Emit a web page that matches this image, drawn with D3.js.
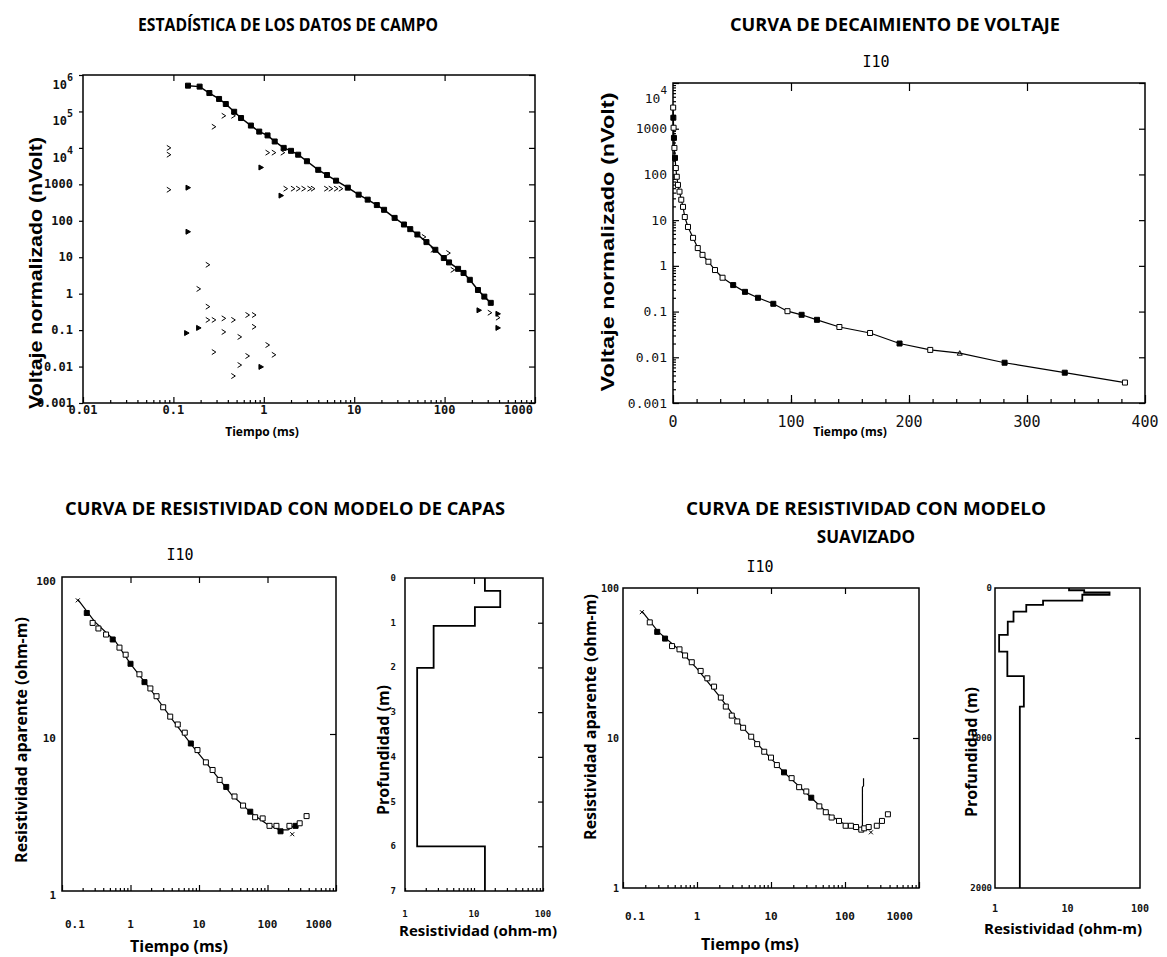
<!DOCTYPE html>
<html>
<head>
<meta charset="utf-8">
<script src="https://cdn.jsdelivr.net/npm/d3@7"></script>
<style>body{margin:0;background:#fff}</style>
</head>
<body>
<script>
// ---- ESTADISTICA DE LOS DATOS DE CAMPO ----
const campoTiempo = [0.145,0.195,0.25,0.32,0.38,0.47,0.56,0.72,0.89,1.1,1.32,1.66,2.0,2.4,3.0,4.0,5.0,6.3,8.5,11.2,14.1,17.8,21.4,28,35.5,41.7,50,63,79,98,112,141,162,190,234,275,324];
const campoVoltaje = [5.1e5,4.8e5,3.2e5,2.2e5,1.6e5,9.8e4,6.6e4,4.1e4,2.8e4,2.2e4,1.5e4,1.0e4,8300,6500,4300,2500,1800,1260,810,520,380,270,200,120,79,59,42,26,16,9.5,7.2,4.8,3.7,2.4,1.26,0.83,0.56];
const dispersoTiempo = [0.089,0.089,0.089,0.28,0.36,0.46,0.24,0.19,0.24,0.24,0.28,0.36,0.46,0.36,0.66,0.78,0.78,0.54,0.28,0.66,1.1,1.29,0.54,0.46,1.1,1.29,1.62,1.74,2.1,2.4,2.75,3.2,3.5,4.9,5.5,6.3,7.1,59,74,110,123,316,389];
const dispersoVoltaje = [1e4,6500,710,3.8e4,7.6e4,7.6e4,6.2,1.35,0.44,0.19,0.19,0.21,0.19,0.089,0.26,0.26,0.123,0.065,0.025,0.0195,0.039,0.021,0.011,0.0055,7400,7400,7400,760,760,760,760,760,760,760,760,760,760,36,16,13,4.5,0.30,0.22];
const rechazoTiempo = [0.145,0.145,0.14,0.19,0.93,0.93,1.55,240,389,389];
const rechazoVoltaje = [810,50,0.083,0.115,0.0098,2900,490,0.35,0.115,0.28];
const campoTicksX = [0.01,0.1,1,10,100,1000];
const campoRotulosX = ["0.01","0.1","1","10","100","1000"];
const campoTicksY = [1e6,1e5,1e4,1000,100,10,1,0.1,0.01,0.001];
const campoRotulosY = ["10^6","10^5","10^4","1000","100","10","1","0.1","0.01","0.001"];

// ---- CURVA DE DECAIMIENTO DE VOLTAJE ----
const decaTiempo = [0.15,0.3,0.5,0.8,1.2,1.7,2.4,3.2,4.2,5.5,7,8.5,10,12.7,17,21,25,30,35.6,42,51,61,72,85,97,109,122,141,167,192,218,243,281,332,383];
const decaVoltaje = [2900,1740,1050,630,380,230,138,89,59,42,28,19.5,11.7,7.1,4.1,2.45,1.74,1.23,0.81,0.55,0.38,0.27,0.20,0.148,0.102,0.085,0.066,0.046,0.034,0.020,0.0145,0.0123,0.0076,0.0046,0.0028];
const decaTipo = ["o","f","o","f","o","f","o","o","o","o","o","o","o","o","o","o","o","o","o","o","f","f","f","f","o","f","f","o","o","f","o","a","f","f","o"];
const decaTicksX = [0,100,200,300,400];
const decaTicksY = [1e4,1000,100,10,1,0.1,0.01,0.001];
const decaRotulosY = ["10^4","1000","100","10","1","0.1","0.01","0.001"];

// ---- CURVA DE RESISTIVIDAD CON MODELO DE CAPAS ----
const capasTiempo = [0.17,0.23,0.28,0.34,0.44,0.55,0.69,0.85,1.0,1.35,1.6,1.95,2.4,3.0,3.8,4.9,6.2,7.6,9.5,12.6,15.8,20,25,33,44,56,66,85,107,135,155,209,257,295,372,230];
const capasRho = [71,59,51,47,43,40,35.5,32,28,24,21.4,19.5,17.4,14.8,12.9,11.5,10.2,8.7,7.9,6.6,5.9,5.1,4.6,4.0,3.5,3.2,2.95,2.9,2.6,2.6,2.4,2.6,2.6,2.7,3.0,2.3];
const capasTipo = ["x","f","o","o","o","f","o","o","f","o","f","o","o","o","o","o","o","f","o","o","o","o","f","o","o","f","o","o","o","o","f","o","f","o","o","x"];
const capasModeloTiempo = [0.17,0.3,0.6,1,2,4,8,15,30,60,100,150,200,290];
const capasModeloRho = [72,52,39,28,19,12.5,8.4,6.0,4.1,3.1,2.65,2.45,2.45,2.75];
const capasTope = [0,0.29,0.65,1.07,2.01,6.0];
const capasBase = [0.29,0.65,1.07,2.01,6.0,7];
const capasResist = [14.4,24,10.3,2.6,1.5,14.4];

// ---- CURVA DE RESISTIVIDAD CON MODELO SUAVIZADO ----
const suaveTiempo = [0.18,0.23,0.29,0.37,0.46,0.58,0.69,0.85,1.12,1.38,1.7,2.1,2.45,2.95,3.5,4.2,5.4,6.5,8.1,10,12,15,19,24,30,35,45,55,66,83,102,120,141,166,182,209,269,316,380,224];
const suaveRho = [69,59,51,46,41,39,35.5,32,28,25,22,18.6,16.2,14.1,12.9,11.7,10.2,9.1,8.1,7.4,6.6,5.9,5.4,4.7,4.4,4.0,3.5,3.2,2.95,2.8,2.6,2.6,2.55,2.45,2.5,2.55,2.6,2.8,3.1,2.35];
const suaveTipo = ["x","o","f","f","o","o","o","o","o","o","o","o","o","o","o","o","o","o","o","o","o","f","o","o","o","f","o","o","o","o","o","o","o","o","o","o","o","o","o","x"];
const suaveModeloTiempo = [0.18,0.3,0.6,1,2,4,8,15,30,60,100,150,172,172,178,178];
const suaveModeloRho = [70,51,38,29,19,12,8.2,5.9,4.3,3.1,2.65,2.45,2.5,4.7,4.8,5.4];
const suaveTope = [0,15,30,45,84,113,158,224,313,424,587,791];
const suaveBase = [15,30,45,84,113,158,224,313,424,587,791,2000];
const suaveResist = [10.5,17,38,16,4.6,2.7,1.8,1.5,1.14,1.48,2.5,2.2];

const tiempoTicks = [0.1,1,10,100,1000];
const tiempoRotulos = ["0.1","1","10","100","1000"];

const MONO = "'DejaVu Sans Mono', monospace";
const SANS = "'Open Sans', sans-serif";
const ARIAL = "'Liberation Sans', Arial, sans-serif";

var svg = d3.select("body").append("svg")
  .attr("width", 1167).attr("height", 957)
  .style("background", "#fff");

// helpers
function menoresLog(a, b) {
  const v = [];
  for (let e = a; e < b; e++) for (let k = 2; k < 10; k++) v.push(k * Math.pow(10, e));
  return v;
}

function marco(x, y) {
  const [x0, x1] = d3.extent(x.range()), [y0, y1] = d3.extent(y.range());
  svg.append("rect")
    .attr("x", x0).attr("y", y0)
    .attr("width", x1 - x0).attr("height", y1 - y0)
    .attr("fill", "none").attr("stroke", "#000").attr("stroke-width", 1.5);
}

// ticks, largo > 0 points inside the box
function marcas(escala, lado, pos, vals, largo) {
  const ax = lado == "b" ? d3.axisBottom(escala) : lado == "t" ? d3.axisTop(escala)
    : lado == "l" ? d3.axisLeft(escala) : d3.axisRight(escala);
  ax.tickValues(vals).tickSize(-largo).tickFormat("");
  const tr = (lado == "b" || lado == "t") ? "translate(0," + pos + ")" : "translate(" + pos + ",0)";
  svg.append("g").attr("transform", tr).call(ax)
    .call(g => g.select(".domain").remove())
    .selectAll("line").attr("stroke", "#000").attr("stroke-width", 1.2);
}

function ponTexto(sel, t, supSize) {
  const p = t.split("^");
  sel.text(p[0]);
  if (p[1]) sel.append("tspan").attr("dy", -8).attr("font-size", supSize).text(p[1]);
}

function rotulosX(escala, vals, textos, y, c) {
  svg.append("g").selectAll("text").data(vals).join("text")
    .attr("x", (d, i) => escala(d) + (c.dx ? c.dx[i] : 0))
    .attr("y", y)
    .attr("text-anchor", (d, i) => c.anchor ? c.anchor[i] : "middle")
    .attr("font-family", MONO).attr("font-size", c.size)
    .attr("font-weight", c.weight || "normal").attr("fill", "#111")
    .text((d, i) => textos[i]);
}

function rotulosY(escala, vals, textos, x, c) {
  svg.append("g").selectAll("text").data(vals).join("text")
    .attr("x", x)
    .attr("y", (d, i) => escala(d) + (textos[i].includes("^") ? c.supDy : 0) + (c.dy || 0))
    .attr("text-anchor", "end").attr("dominant-baseline", "central")
    .attr("font-family", MONO).attr("font-size", c.size)
    .attr("font-weight", c.weight || "normal").attr("fill", "#111")
    .each(function (d, i) { ponTexto(d3.select(this), textos[i], c.size - 2); });
}

function texto(t, x, y, c) {
  const el = svg.append("text")
    .attr("x", x).attr("y", y)
    .attr("text-anchor", "middle").attr("dominant-baseline", "central")
    .attr("font-family", c.family).attr("font-size", c.size)
    .attr("font-weight", c.weight || "bold").attr("fill", "#000")
    .text(t);
  if (c.rot) el.attr("transform", "rotate(-90," + x + "," + y + ")");
  if (c.len) el.attr("textLength", c.len).attr("lengthAdjust", "spacingAndGlyphs");
  return el;
}

const formas = {
  o: "M-2.5,-2.5h5v5h-5Z",
  f: "M-2.5,-2.5h5v5h-5Z",
  c: "M-2,-2.5L2,0L-2,2.5",
  t: "M-2,-2.5L2.5,0L-2,2.5Z",
  x: "M-2,-2L2,2M-2,2L2,-2",
  a: "M0,-2.5L2.5,2L-2.5,2Z"
};
const rellenos = { o: "#fff", f: "#000", c: "none", t: "#000", x: "none", a: "none" };

function marcadores(x, y, xs, ys, tipos) {
  svg.append("g").selectAll("path").data(xs).join("path")
    .attr("transform", (d, i) => "translate(" + x(d) + "," + y(ys[i]) + ")")
    .attr("d", (d, i) => formas[typeof tipos == "string" ? tipos : tipos[i]])
    .attr("fill", (d, i) => rellenos[typeof tipos == "string" ? tipos : tipos[i]])
    .attr("stroke", "#000").attr("stroke-width", 1);
}

function linea(x, y, xs, ys, w) {
  svg.append("path")
    .datum(xs.map((d, i) => [d, ys[i]]))
    .attr("d", d3.line().x(d => x(d[0])).y(d => y(d[1])))
    .attr("fill", "none").attr("stroke", "#000").attr("stroke-width", w || 1.2);
}

function perfil(x, y, tope, base, rho) {
  const pts = [];
  rho.forEach((r, i) => { pts.push([r, tope[i]]); pts.push([r, base[i]]); });
  svg.append("path").datum(pts)
    .attr("d", d3.line().x(d => x(d[0])).y(d => y(d[1])))
    .attr("fill", "none").attr("stroke", "#000").attr("stroke-width", 1.8);
}

// ===== panel 1 =====
{
  const x = d3.scaleLog().domain([0.01, 1000]).range([83, 535]);
  const y = d3.scaleLog().domain([0.001, 1e6]).range([403, 75]);
  texto("ESTADÍSTICA DE LOS DATOS DE CAMPO", 288, 24, { family: SANS, size: 17, len: 300 });
  marco(x, y);
  marcas(x, "t", 75, campoTicksX.slice(1, 5), 6);
  marcas(x, "b", 403, campoTicksX, 6);
  marcas(x, "b", 403, menoresLog(-2, 3), 3);
  marcas(y, "r", 535, campoTicksY, 6);
  marcas(y, "l", 83, campoTicksY, -4);
  rotulosY(y, campoTicksY, campoRotulosY, 73, { size: 12, weight: "bold", supDy: 10 });
  rotulosX(x, campoTicksX, campoRotulosX, 414, { size: 12, weight: "bold", anchor: ["middle","middle","middle","middle","middle","end"], dx: [0,0,0,0,0,-2] });
  texto("Tiempo (ms)", 262, 431, { family: SANS, size: 12 });
  texto("Voltaje normalizado (nVolt)", 36, 273, { family: ARIAL, size: 18, rot: true, len: 272 });
  linea(x, y, campoTiempo, campoVoltaje, 1.5);
  marcadores(x, y, campoTiempo, campoVoltaje, "f");
  marcadores(x, y, dispersoTiempo, dispersoVoltaje, "c");
  marcadores(x, y, rechazoTiempo, rechazoVoltaje, "t");
}

// ===== panel 2 =====
{
  const x = d3.scaleLinear().domain([0, 400]).range([673, 1145]);
  const y = d3.scaleLog().domain([0.001, 1e4]).range([403, 83]);
  texto("CURVA DE DECAIMIENTO DE VOLTAJE", 895, 24, { family: SANS, size: 17, len: 330 });
  texto("I10", 876, 62, { family: MONO, size: 15, weight: "normal" });
  marco(x, y);
  marcas(x, "t", 83, [100, 200, 300], 8);
  marcas(x, "b", 403, decaTicksX, 8);
  marcas(x, "b", 403, d3.range(20, 400, 20), 4);
  marcas(y, "l", 673, decaTicksY, 6);
  marcas(y, "l", 673, menoresLog(-3, 4), 3);
  marcas(y, "r", 1145, decaTicksY, 6);
  rotulosY(y, decaTicksY, decaRotulosY, 667, { size: 13, supDy: 15 });
  rotulosX(x, decaTicksX, decaTicksX.map(String), 427, { size: 15 });
  texto("Tiempo (ms)", 850, 431, { family: SANS, size: 12 });
  texto("Voltaje normalizado (nVolt)", 608, 242, { family: ARIAL, size: 18, rot: true, len: 299 });
  linea(x, y, decaTiempo, decaVoltaje, 1.2);
  marcadores(x, y, decaTiempo, decaVoltaje, decaTipo);
}

// ===== panel 3 =====
{
  const x = d3.scaleLog().domain([0.1, 1000]).range([62, 336]);
  const y = d3.scaleLog().domain([1, 100]).range([891, 577]);
  texto("CURVA DE RESISTIVIDAD CON MODELO DE CAPAS", 285, 508, { family: SANS, size: 17, len: 440 });
  texto("I10", 180, 555, { family: MONO, size: 15, weight: "normal" });
  marco(x, y);
  marcas(x, "t", 577, [1, 10, 100], 6);
  marcas(x, "b", 891, tiempoTicks, 6);
  marcas(x, "b", 891, menoresLog(-1, 3), 3);
  marcas(y, "r", 336, [10], 6);
  rotulosY(y, [100, 10, 1], ["100", "10", "1"], 56, { size: 11, weight: "bold", dy: 4 });
  rotulosX(x, tiempoTicks, tiempoRotulos, 928, { size: 11, weight: "bold", anchor: ["start","middle","middle","middle","end"], dx: [3,0,0,0,-4] });
  texto("Tiempo (ms)", 179, 946, { family: SANS, size: 16 });
  texto("Resistividad aparente (ohm-m)", 21, 740, { family: SANS, size: 16, rot: true });
  linea(x, y, capasModeloTiempo, capasModeloRho, 1.2);
  marcadores(x, y, capasTiempo, capasRho, capasTipo);

  // perfil de capas
  const px = d3.scaleLog().domain([1, 100]).range([405, 543]);
  const py = d3.scaleLinear().domain([0, 7]).range([578, 891]);
  marco(px, py);
  marcas(px, "t", 578, [10], 6);
  marcas(px, "b", 891, menoresLog(0, 2).concat([1, 10, 100]), 3);
  marcas(py, "r", 543, d3.range(1, 7), 5);
  rotulosY(py, d3.range(0, 8), d3.range(0, 8).map(String), 396, { size: 9, weight: "bold" });
  rotulosX(px, [1, 10, 100], ["1", "10", "100"], 917, { size: 9, weight: "bold" });
  texto("Resistividad (ohm-m)", 478, 930, { family: SANS, size: 15 });
  texto("Profundidad (m)", 383, 750, { family: SANS, size: 16, rot: true });
  perfil(px, py, capasTope, capasBase, capasResist);
}

// ===== panel 4 =====
{
  const x = d3.scaleLog().domain([0.1, 1000]).range([623, 919]);
  const y = d3.scaleLog().domain([1, 100]).range([888, 588]);
  texto("CURVA DE RESISTIVIDAD CON MODELO", 866, 508, { family: SANS, size: 17, len: 360 });
  texto("SUAVIZADO", 866, 536, { family: SANS, size: 17 });
  texto("I10", 760, 567, { family: MONO, size: 15, weight: "normal" });
  marco(x, y);
  marcas(x, "t", 588, [1, 10, 100], 6);
  marcas(x, "b", 888, tiempoTicks, 6);
  marcas(x, "b", 888, menoresLog(-1, 3), 3);
  marcas(y, "r", 919, [10], 6);
  rotulosY(y, [100, 10, 1], ["100", "10", "1"], 619, { size: 10, weight: "bold" });
  rotulosX(x, tiempoTicks, tiempoRotulos, 920, { size: 11, weight: "bold", anchor: ["start","middle","middle","middle","end"], dx: [2,0,0,0,-6] });
  texto("Tiempo (ms)", 750, 944, { family: SANS, size: 16 });
  texto("Resistividad aparente (ohm-m)", 590, 717, { family: SANS, size: 16, rot: true });
  linea(x, y, suaveModeloTiempo, suaveModeloRho, 1.2);
  marcadores(x, y, suaveTiempo, suaveRho, suaveTipo);

  // perfil suavizado
  const px = d3.scaleLog().domain([1, 100]).range([995, 1140]);
  const py = d3.scaleLinear().domain([0, 2000]).range([588, 888]);
  marco(px, py);
  marcas(py, "r", 1140, [1000], 5);
  rotulosY(py, [0, 1000, 2000], ["0", "1000", "2000"], 992, { size: 9, weight: "bold" });
  rotulosX(px, [1, 10, 100], ["1", "10", "100"], 912, { size: 10, weight: "bold" });
  texto("Resistividad (ohm-m)", 1063, 928, { family: SANS, size: 15 });
  texto("Profundidad (m)", 971, 752, { family: SANS, size: 16, rot: true });
  perfil(px, py, suaveTope, suaveBase, suaveResist);
}
</script>
</body>
</html>
